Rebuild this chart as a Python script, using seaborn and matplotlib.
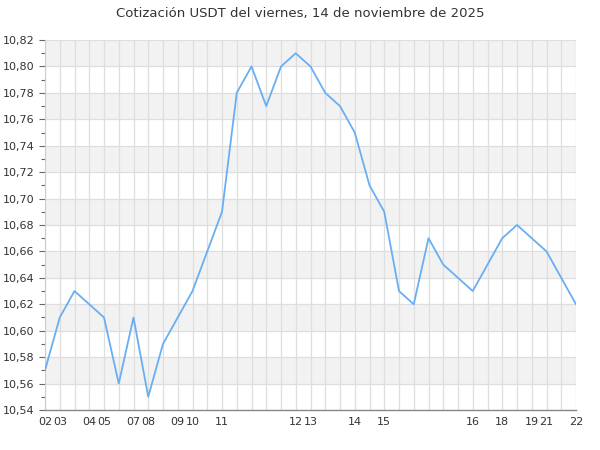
import matplotlib
matplotlib.use("Agg")
import matplotlib.pyplot as plt
from matplotlib.ticker import FuncFormatter, MultipleLocator
import pandas as pd
import seaborn as sns

# hora de cada muestra (solo se etiqueta el primer punto de cada hora)
hour_labels = ["02", "03", "", "04", "05", "", "07", "08", "", "09", "10", "", "11",
               "", "", "", "", "12", "13", "", "", "14", "", "15", "", "", "", "",
               "", "16", "", "18", "", "19", "21", "", "22"]
prices = [10.57, 10.61, 10.63, 10.62, 10.61, 10.56, 10.61, 10.55, 10.59, 10.61,
          10.63, 10.66, 10.69, 10.78, 10.80, 10.77, 10.80, 10.81, 10.80, 10.78,
          10.77, 10.75, 10.71, 10.69, 10.63, 10.62, 10.67, 10.65, 10.64, 10.63,
          10.65, 10.67, 10.68, 10.67, 10.66, 10.64, 10.62]
title = "Cotización USDT del viernes, 14 de noviembre de 2025"

df = pd.DataFrame({"idx": range(len(prices)), "price": prices})

sns.set_theme(style="white")
plt.rcParams["font.family"] = ["DejaVu Sans"]

fig = plt.figure(figsize=(6, 4.5), dpi=100)
ax = fig.add_axes([0.075, 0.089, 0.885, 0.822])

ymin, ymax = 10.54, 10.82
# bandas alternas
for k in range(7):
    lo = 10.56 + 0.04 * k
    ax.axhspan(lo, lo + 0.02, color="#f2f2f2", zorder=0, lw=0)

sns.lineplot(data=df, x="idx", y="price", ax=ax, color="#6aaef2", lw=1.3, zorder=3)

ax.set_xlim(0, len(prices) - 1)
ax.set_ylim(ymin, ymax)
ax.set_xticks(range(len(prices)))
ax.set_xticklabels(hour_labels, fontsize=8, color="#333333")
ax.yaxis.set_major_locator(MultipleLocator(0.02))
ax.yaxis.set_minor_locator(MultipleLocator(0.01))
ax.yaxis.set_major_formatter(FuncFormatter(lambda v, p: f"{v:.2f}".replace(".", ",")))
ax.tick_params(axis="y", labelsize=8, labelcolor="#333333", left=True, which="both",
               color="#666666", length=4, width=0.8)
ax.tick_params(axis="y", which="minor", length=3)
ax.tick_params(axis="x", length=0, pad=5)
ax.grid(True, which="major", color="#dedede", lw=0.9, zorder=1)
ax.set_axisbelow(True)
ax.set_xlabel("")
ax.set_ylabel("")

for s in ["top", "right"]:
    ax.spines[s].set_visible(False)
ax.spines["left"].set_color("#cccccc")
ax.spines["left"].set_linewidth(0.8)
ax.spines["bottom"].set_color("#888888")
ax.spines["bottom"].set_linewidth(1)

fig.suptitle(title, y=0.985, fontsize=9.5, color="#333333")

fig.savefig("out.png", dpi=100)
